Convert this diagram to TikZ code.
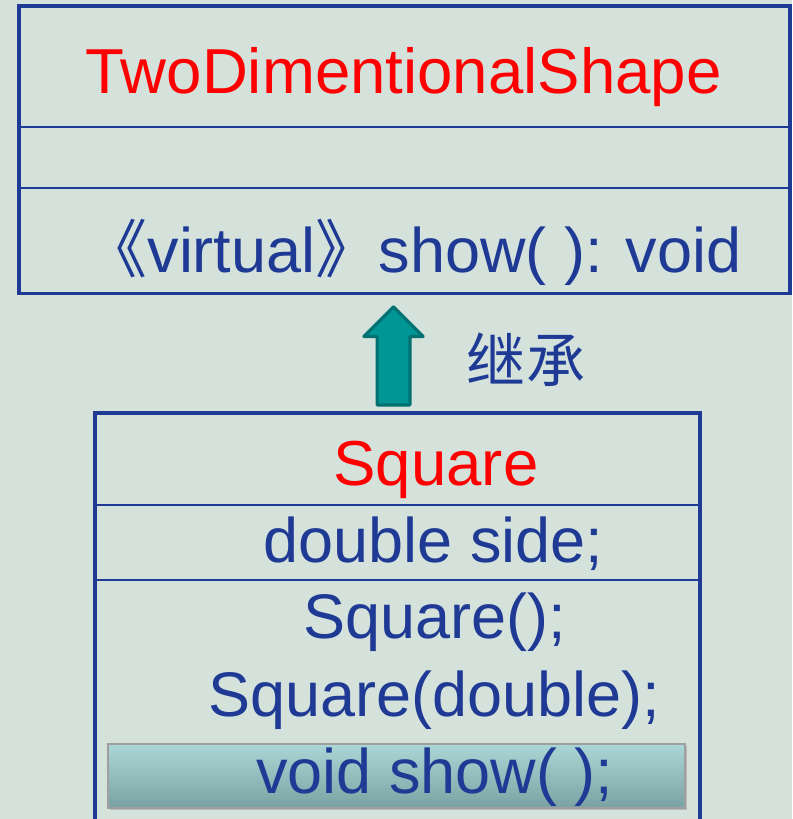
\documentclass[tikz,border=0pt]{standalone}
\usepackage{fontspec}
\setmainfont{Liberation Sans}
\newfontfamily\cjk{Noto Sans CJK SC}
\usetikzlibrary{shapes.arrows}

\definecolor{bgcol}{RGB}{213,226,220}
\definecolor{umlblue}{RGB}{30,58,148}
\definecolor{arrowfill}{RGB}{0,150,150}
\definecolor{arrowline}{RGB}{0,112,112}
\definecolor{bartop}{RGB}{172,214,214}
\definecolor{barbot}{RGB}{122,162,162}

\tikzset{
  umlline/.style={draw=umlblue, line width=0.09cm},
  umlsep/.style={draw=umlblue, line width=0.055cm},
  classname/.style={text=red, font=\fontsize{45.2}{54}\selectfont, inner sep=0pt, anchor=base},
  member/.style={text=umlblue, font=\fontsize{44.8}{54}\selectfont, inner sep=0pt, anchor=base}
}

\begin{document}
\begin{tikzpicture}[x=0.025cm,y=-0.025cm]

\useasboundingbox (0,0) rectangle (792,819);
\clip (0,0) rectangle (792,819);
\fill[bgcol] (0,0) rectangle (792,819);

\draw[umlline] (19,6) rectangle (790,293.5);
\draw[umlsep] (19,127) -- (790,127);
\draw[umlsep] (19,188) -- (790,188);

\node[classname] (tdsname) at (403.5,94) {TwoDimentionalShape};
\node[member] (tdsshow) at (413,273) {{\cjk 《}virtual{\cjk 》}show( ): void};

\node[single arrow, rotate=90, anchor=tail, fill=arrowfill, draw=arrowline,
      line width=0.08cm, line join=round,
      minimum height=2.45cm, minimum width=1.4cm, inner sep=0.37cm,
      single arrow head extend=0.33cm] (inherit) at (393.5,406.5) {};
\node[text=umlblue, font=\cjk\fontsize{42}{50}\selectfont, inner sep=0pt, anchor=base] (inheritlabel) at (526,382) {继承};

\draw[umlline] (95,830) -- (95,413) -- (700,413) -- (700,830);
\draw[umlsep] (95,505) -- (700,505);
\draw[umlsep] (95,580) -- (700,580);

\node[classname] (sqname) at (436,485) {Square};
\node[member] (sqside) at (433.5,562) {double side;};
\node[member] (sqctor) at (435,638) {Square();};
\node[member] (sqctord) at (434.5,716) {Square(double);};

\fill[gray!55] (110,746) rectangle (687,810);
\shade[top color=bartop, bottom color=barbot, draw=gray!75, line width=0.03cm] (108,744) rectangle (685,808);
\node[member] (sqshow) at (435,793) {void show( );};

\end{tikzpicture}
\end{document}
